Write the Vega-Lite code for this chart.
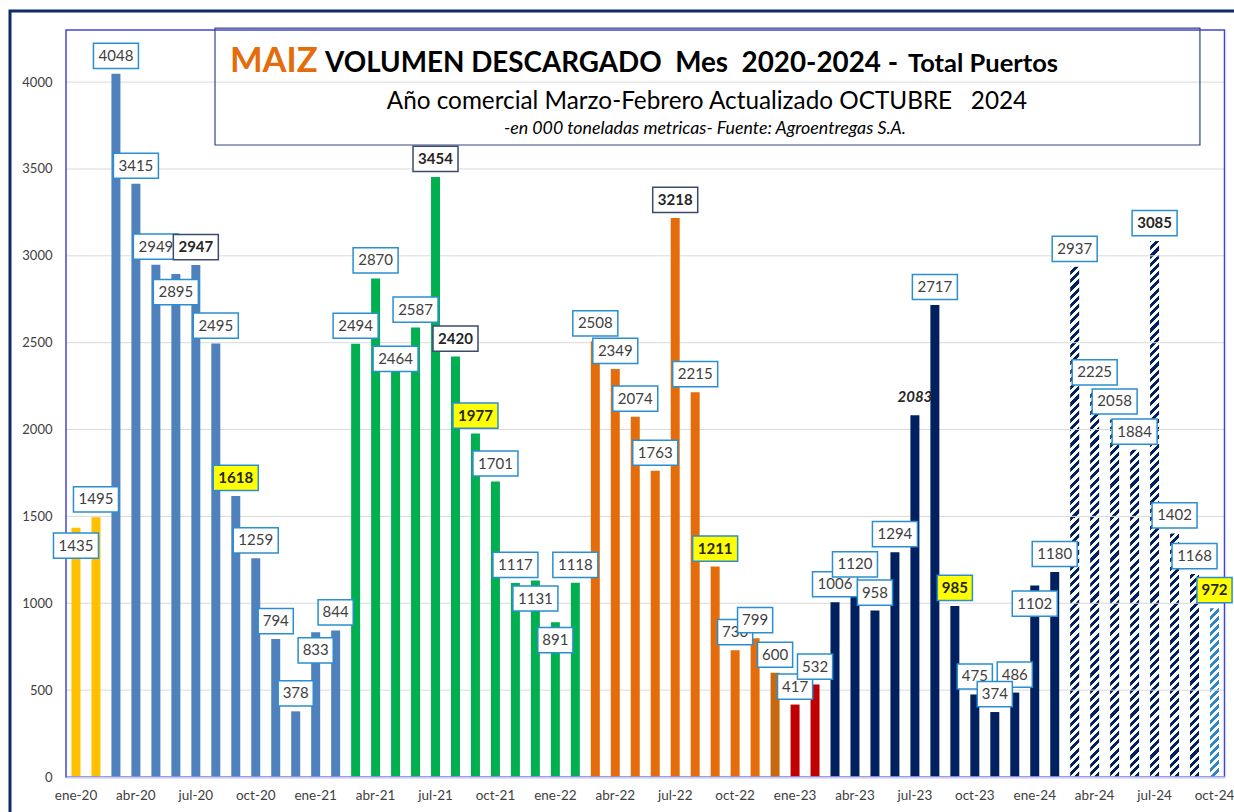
{
"$schema": "https://vega.github.io/schema/vega-lite/v6.json",
"width": 1234,
"height": 810,
"autosize": {"type": "none"},
"padding": {"left": 10, "top": 11, "right": -10, "bottom": -9},
"background": "white",
"config": {"view": {"stroke": "#0F2A66", "strokeWidth": 3}, "text": {"font": "Lato"}},
"data": {"values": [
{"m":"ene-20","v":1435,"c":"19/20"},{"m":"feb-20","v":1495,"c":"19/20"},
{"m":"mar-20","v":4048,"c":"20/21"},{"m":"abr-20","v":3415,"c":"20/21"},{"m":"may-20","v":2949,"c":"20/21"},{"m":"jun-20","v":2895,"c":"20/21"},{"m":"jul-20","v":2947,"c":"20/21"},{"m":"ago-20","v":2495,"c":"20/21"},{"m":"sep-20","v":1618,"c":"20/21"},{"m":"oct-20","v":1259,"c":"20/21"},{"m":"nov-20","v":794,"c":"20/21"},{"m":"dic-20","v":378,"c":"20/21"},{"m":"ene-21","v":833,"c":"20/21"},{"m":"feb-21","v":844,"c":"20/21"},
{"m":"mar-21","v":2494,"c":"21/22"},{"m":"abr-21","v":2870,"c":"21/22"},{"m":"may-21","v":2464,"c":"21/22"},{"m":"jun-21","v":2587,"c":"21/22"},{"m":"jul-21","v":3454,"c":"21/22"},{"m":"ago-21","v":2420,"c":"21/22"},{"m":"sep-21","v":1977,"c":"21/22"},{"m":"oct-21","v":1701,"c":"21/22"},{"m":"nov-21","v":1117,"c":"21/22"},{"m":"dic-21","v":1131,"c":"21/22"},{"m":"ene-22","v":891,"c":"21/22"},{"m":"feb-22","v":1118,"c":"21/22"},
{"m":"mar-22","v":2508,"c":"22/23"},{"m":"abr-22","v":2349,"c":"22/23"},{"m":"may-22","v":2074,"c":"22/23"},{"m":"jun-22","v":1763,"c":"22/23"},{"m":"jul-22","v":3218,"c":"22/23"},{"m":"ago-22","v":2215,"c":"22/23"},{"m":"sep-22","v":1211,"c":"22/23"},{"m":"oct-22","v":730,"c":"22/23"},{"m":"nov-22","v":799,"c":"22/23"},{"m":"dic-22","v":600,"c":"22/23"},{"m":"ene-23","v":417,"c":"22/23"},{"m":"feb-23","v":532,"c":"22/23"},
{"m":"mar-23","v":1006,"c":"23/24"},{"m":"abr-23","v":1120,"c":"23/24"},{"m":"may-23","v":958,"c":"23/24"},{"m":"jun-23","v":1294,"c":"23/24"},{"m":"jul-23","v":2083,"c":"23/24"},{"m":"ago-23","v":2717,"c":"23/24"},{"m":"sep-23","v":985,"c":"23/24"},{"m":"oct-23","v":475,"c":"23/24"},{"m":"nov-23","v":374,"c":"23/24"},{"m":"dic-23","v":486,"c":"23/24"},{"m":"ene-24","v":1102,"c":"23/24"},{"m":"feb-24","v":1180,"c":"23/24"},
{"m":"mar-24","v":2937,"c":"24/25"},{"m":"abr-24","v":2225,"c":"24/25"},{"m":"may-24","v":2058,"c":"24/25"},{"m":"jun-24","v":1884,"c":"24/25"},{"m":"jul-24","v":3085,"c":"24/25"},{"m":"ago-24","v":1402,"c":"24/25"},{"m":"sep-24","v":1168,"c":"24/25"},{"m":"oct-24","v":972,"c":"24/25"}
]},
"layer": [
{
"transform": [{"filter": "datum.c === '24/25' && datum.m !== 'oct-24'"}],
"mark": {"type": "bar", "width": {"band": 0.45}, "fill": {"gradient": "linear", "x1": 0, "y1": 0, "x2": 0.016958, "y2": 1.016373, "stops": [
{"offset":0,"color":"#002060"},
{"offset":0.0075,"color":"#002060"},{"offset":0.0075,"color":"#fff"},
{"offset":0.015,"color":"#fff"},{"offset":0.015,"color":"#002060"},
{"offset":0.0225,"color":"#002060"},{"offset":0.0225,"color":"#fff"},
{"offset":0.03,"color":"#fff"},{"offset":0.03,"color":"#002060"},
{"offset":0.0375,"color":"#002060"},{"offset":0.0375,"color":"#fff"},
{"offset":0.045,"color":"#fff"},{"offset":0.045,"color":"#002060"},
{"offset":0.0525,"color":"#002060"},{"offset":0.0525,"color":"#fff"},
{"offset":0.06,"color":"#fff"},{"offset":0.06,"color":"#002060"},
{"offset":0.0675,"color":"#002060"},{"offset":0.0675,"color":"#fff"},
{"offset":0.075,"color":"#fff"},{"offset":0.075,"color":"#002060"},
{"offset":0.0825,"color":"#002060"},{"offset":0.0825,"color":"#fff"},
{"offset":0.09,"color":"#fff"},{"offset":0.09,"color":"#002060"},
{"offset":0.0975,"color":"#002060"},{"offset":0.0975,"color":"#fff"},
{"offset":0.105,"color":"#fff"},{"offset":0.105,"color":"#002060"},
{"offset":0.1125,"color":"#002060"},{"offset":0.1125,"color":"#fff"},
{"offset":0.12,"color":"#fff"},{"offset":0.12,"color":"#002060"},
{"offset":0.1275,"color":"#002060"},{"offset":0.1275,"color":"#fff"},
{"offset":0.135,"color":"#fff"},{"offset":0.135,"color":"#002060"},
{"offset":0.1425,"color":"#002060"},{"offset":0.1425,"color":"#fff"},
{"offset":0.15,"color":"#fff"},{"offset":0.15,"color":"#002060"},
{"offset":0.1575,"color":"#002060"},{"offset":0.1575,"color":"#fff"},
{"offset":0.165,"color":"#fff"},{"offset":0.165,"color":"#002060"},
{"offset":0.1725,"color":"#002060"},{"offset":0.1725,"color":"#fff"},
{"offset":0.18,"color":"#fff"},{"offset":0.18,"color":"#002060"},
{"offset":0.1875,"color":"#002060"},{"offset":0.1875,"color":"#fff"},
{"offset":0.195,"color":"#fff"},{"offset":0.195,"color":"#002060"},
{"offset":0.2025,"color":"#002060"},{"offset":0.2025,"color":"#fff"},
{"offset":0.21,"color":"#fff"},{"offset":0.21,"color":"#002060"},
{"offset":0.2175,"color":"#002060"},{"offset":0.2175,"color":"#fff"},
{"offset":0.225,"color":"#fff"},{"offset":0.225,"color":"#002060"},
{"offset":0.2325,"color":"#002060"},{"offset":0.2325,"color":"#fff"},
{"offset":0.24,"color":"#fff"},{"offset":0.24,"color":"#002060"},
{"offset":0.2475,"color":"#002060"},{"offset":0.2475,"color":"#fff"},
{"offset":0.255,"color":"#fff"},{"offset":0.255,"color":"#002060"},
{"offset":0.2625,"color":"#002060"},{"offset":0.2625,"color":"#fff"},
{"offset":0.27,"color":"#fff"},{"offset":0.27,"color":"#002060"},
{"offset":0.2775,"color":"#002060"},{"offset":0.2775,"color":"#fff"},
{"offset":0.285,"color":"#fff"},{"offset":0.285,"color":"#002060"},
{"offset":0.2925,"color":"#002060"},{"offset":0.2925,"color":"#fff"},
{"offset":0.3,"color":"#fff"},{"offset":0.3,"color":"#002060"},
{"offset":0.3075,"color":"#002060"},{"offset":0.3075,"color":"#fff"},
{"offset":0.315,"color":"#fff"},{"offset":0.315,"color":"#002060"},
{"offset":0.3225,"color":"#002060"},{"offset":0.3225,"color":"#fff"},
{"offset":0.33,"color":"#fff"},{"offset":0.33,"color":"#002060"},
{"offset":0.3375,"color":"#002060"},{"offset":0.3375,"color":"#fff"},
{"offset":0.345,"color":"#fff"},{"offset":0.345,"color":"#002060"},
{"offset":0.3525,"color":"#002060"},{"offset":0.3525,"color":"#fff"},
{"offset":0.36,"color":"#fff"},{"offset":0.36,"color":"#002060"},
{"offset":0.3675,"color":"#002060"},{"offset":0.3675,"color":"#fff"},
{"offset":0.375,"color":"#fff"},{"offset":0.375,"color":"#002060"},
{"offset":0.3825,"color":"#002060"},{"offset":0.3825,"color":"#fff"},
{"offset":0.39,"color":"#fff"},{"offset":0.39,"color":"#002060"},
{"offset":0.3975,"color":"#002060"},{"offset":0.3975,"color":"#fff"},
{"offset":0.405,"color":"#fff"},{"offset":0.405,"color":"#002060"},
{"offset":0.4125,"color":"#002060"},{"offset":0.4125,"color":"#fff"},
{"offset":0.42,"color":"#fff"},{"offset":0.42,"color":"#002060"},
{"offset":0.4275,"color":"#002060"},{"offset":0.4275,"color":"#fff"},
{"offset":0.435,"color":"#fff"},{"offset":0.435,"color":"#002060"},
{"offset":0.4425,"color":"#002060"},{"offset":0.4425,"color":"#fff"},
{"offset":0.45,"color":"#fff"},{"offset":0.45,"color":"#002060"},
{"offset":0.4575,"color":"#002060"},{"offset":0.4575,"color":"#fff"},
{"offset":0.465,"color":"#fff"},{"offset":0.465,"color":"#002060"},
{"offset":0.4725,"color":"#002060"},{"offset":0.4725,"color":"#fff"},
{"offset":0.48,"color":"#fff"},{"offset":0.48,"color":"#002060"},
{"offset":0.4875,"color":"#002060"},{"offset":0.4875,"color":"#fff"},
{"offset":0.495,"color":"#fff"},{"offset":0.495,"color":"#002060"},
{"offset":0.5025,"color":"#002060"},{"offset":0.5025,"color":"#fff"},
{"offset":0.51,"color":"#fff"},{"offset":0.51,"color":"#002060"},
{"offset":0.5175,"color":"#002060"},{"offset":0.5175,"color":"#fff"},
{"offset":0.525,"color":"#fff"},{"offset":0.525,"color":"#002060"},
{"offset":0.5325,"color":"#002060"},{"offset":0.5325,"color":"#fff"},
{"offset":0.54,"color":"#fff"},{"offset":0.54,"color":"#002060"},
{"offset":0.5475,"color":"#002060"},{"offset":0.5475,"color":"#fff"},
{"offset":0.555,"color":"#fff"},{"offset":0.555,"color":"#002060"},
{"offset":0.5625,"color":"#002060"},{"offset":0.5625,"color":"#fff"},
{"offset":0.57,"color":"#fff"},{"offset":0.57,"color":"#002060"},
{"offset":0.5775,"color":"#002060"},{"offset":0.5775,"color":"#fff"},
{"offset":0.585,"color":"#fff"},{"offset":0.585,"color":"#002060"},
{"offset":0.5925,"color":"#002060"},{"offset":0.5925,"color":"#fff"},
{"offset":0.6,"color":"#fff"},{"offset":0.6,"color":"#002060"},
{"offset":0.6075,"color":"#002060"},{"offset":0.6075,"color":"#fff"},
{"offset":0.615,"color":"#fff"},{"offset":0.615,"color":"#002060"},
{"offset":0.6225,"color":"#002060"},{"offset":0.6225,"color":"#fff"},
{"offset":0.63,"color":"#fff"},{"offset":0.63,"color":"#002060"},
{"offset":0.6375,"color":"#002060"},{"offset":0.6375,"color":"#fff"},
{"offset":0.645,"color":"#fff"},{"offset":0.645,"color":"#002060"},
{"offset":0.6525,"color":"#002060"},{"offset":0.6525,"color":"#fff"},
{"offset":0.66,"color":"#fff"},{"offset":0.66,"color":"#002060"},
{"offset":0.6675,"color":"#002060"},{"offset":0.6675,"color":"#fff"},
{"offset":0.675,"color":"#fff"},{"offset":0.675,"color":"#002060"},
{"offset":0.6825,"color":"#002060"},{"offset":0.6825,"color":"#fff"},
{"offset":0.69,"color":"#fff"},{"offset":0.69,"color":"#002060"},
{"offset":0.6975,"color":"#002060"},{"offset":0.6975,"color":"#fff"},
{"offset":0.705,"color":"#fff"},{"offset":0.705,"color":"#002060"},
{"offset":0.7125,"color":"#002060"},{"offset":0.7125,"color":"#fff"},
{"offset":0.72,"color":"#fff"},{"offset":0.72,"color":"#002060"},
{"offset":0.7275,"color":"#002060"},{"offset":0.7275,"color":"#fff"},
{"offset":0.735,"color":"#fff"},{"offset":0.735,"color":"#002060"},
{"offset":0.7425,"color":"#002060"},{"offset":0.7425,"color":"#fff"},
{"offset":0.75,"color":"#fff"},{"offset":0.75,"color":"#002060"},
{"offset":0.7575,"color":"#002060"},{"offset":0.7575,"color":"#fff"},
{"offset":0.765,"color":"#fff"},{"offset":0.765,"color":"#002060"},
{"offset":0.7725,"color":"#002060"},{"offset":0.7725,"color":"#fff"},
{"offset":0.78,"color":"#fff"},{"offset":0.78,"color":"#002060"},
{"offset":0.7875,"color":"#002060"},{"offset":0.7875,"color":"#fff"},
{"offset":0.795,"color":"#fff"},{"offset":0.795,"color":"#002060"},
{"offset":0.8025,"color":"#002060"},{"offset":0.8025,"color":"#fff"},
{"offset":0.81,"color":"#fff"},{"offset":0.81,"color":"#002060"},
{"offset":0.8175,"color":"#002060"},{"offset":0.8175,"color":"#fff"},
{"offset":0.825,"color":"#fff"},{"offset":0.825,"color":"#002060"},
{"offset":0.8325,"color":"#002060"},{"offset":0.8325,"color":"#fff"},
{"offset":0.84,"color":"#fff"},{"offset":0.84,"color":"#002060"},
{"offset":0.8475,"color":"#002060"},{"offset":0.8475,"color":"#fff"},
{"offset":0.855,"color":"#fff"},{"offset":0.855,"color":"#002060"},
{"offset":0.8625,"color":"#002060"},{"offset":0.8625,"color":"#fff"},
{"offset":0.87,"color":"#fff"},{"offset":0.87,"color":"#002060"},
{"offset":0.8775,"color":"#002060"},{"offset":0.8775,"color":"#fff"},
{"offset":0.885,"color":"#fff"},{"offset":0.885,"color":"#002060"},
{"offset":0.8925,"color":"#002060"},{"offset":0.8925,"color":"#fff"},
{"offset":0.9,"color":"#fff"},{"offset":0.9,"color":"#002060"},
{"offset":0.9075,"color":"#002060"},{"offset":0.9075,"color":"#fff"},
{"offset":0.915,"color":"#fff"},{"offset":0.915,"color":"#002060"},
{"offset":0.9225,"color":"#002060"},{"offset":0.9225,"color":"#fff"},
{"offset":0.93,"color":"#fff"},{"offset":0.93,"color":"#002060"},
{"offset":0.9375,"color":"#002060"},{"offset":0.9375,"color":"#fff"},
{"offset":0.945,"color":"#fff"},{"offset":0.945,"color":"#002060"},
{"offset":0.9525,"color":"#002060"},{"offset":0.9525,"color":"#fff"},
{"offset":0.96,"color":"#fff"},{"offset":0.96,"color":"#002060"},
{"offset":0.9675,"color":"#002060"},{"offset":0.9675,"color":"#fff"},
{"offset":0.975,"color":"#fff"},{"offset":0.975,"color":"#002060"},
{"offset":0.9825,"color":"#002060"},{"offset":0.9825,"color":"#fff"},
{"offset":0.99,"color":"#fff"},{"offset":0.99,"color":"#002060"},
{"offset":0.9975,"color":"#002060"},{"offset":0.9975,"color":"#fff"},
{"offset":1,"color":"#fff"}
]}},
"encoding": {
"x": {"field": "m", "type": "nominal", "sort": null,
 "scale": {"type": "band", "domain": ["ene-20","feb-20","mar-20","abr-20","may-20","jun-20","jul-20","ago-20","sep-20","oct-20","nov-20","dic-20","ene-21","feb-21","mar-21","abr-21","may-21","jun-21","jul-21","ago-21","sep-21","oct-21","nov-21","dic-21","ene-22","feb-22","mar-22","abr-22","may-22","jun-22","jul-22","ago-22","sep-22","oct-22","nov-22","dic-22","ene-23","feb-23","mar-23","abr-23","may-23","jun-23","jul-23","ago-23","sep-23","oct-23","nov-23","dic-23","ene-24","feb-24","mar-24","abr-24","may-24","jun-24","jul-24","ago-24","sep-24","oct-24"], "range": [56, 1214.5], "paddingInner": 0, "paddingOuter": 0},
 "axis": {"orient": "bottom", "offset": -44, "title": null, "values": ["ene-20","abr-20","jul-20","oct-20","ene-21","abr-21","jul-21","oct-21","ene-22","abr-22","jul-22","oct-22","ene-23","abr-23","jul-23","oct-23","ene-24","abr-24","jul-24","oct-24"], "ticks": false, "tickSize": 0, "labelPadding": 11, "labelAngle": 0, "labelFont": "Lato", "labelFontSize": 13.5, "labelColor": "#404040", "labelOverlap": false, "domainColor": "#C9C9EE", "domainWidth": 2, "grid": false, "zindex": 1}},
"y": {"datum": 3100, "type": "quantitative",
 "scale": {"domain": [0, 4300], "range": [766, 19], "nice": false, "zero": true},
 "axis": {"orient": "left", "offset": -56, "title": null, "format": "d", "values": [0,500,1000,1500,2000,2500,3000,3500,4000], "ticks": false, "tickSize": 0, "labelPadding": 14, "labelFont": "Lato", "labelFontSize": 13, "labelColor": "#404040", "domain": false, "grid": false}},
"y2": {"datum": 0}
}
},
{
"transform": [{"filter": "datum.m === 'oct-24'"}],
"mark": {"type": "bar", "width": {"band": 0.45}, "fill": {"gradient": "linear", "x1": 0, "y1": 0, "x2": 0.05588, "y2": 1.05021, "stops": [
{"offset":0,"color":"#2E86C8"},
{"offset":0.0225,"color":"#2E86C8"},{"offset":0.0225,"color":"#fff"},
{"offset":0.045,"color":"#fff"},{"offset":0.045,"color":"#2E86C8"},
{"offset":0.0675,"color":"#2E86C8"},{"offset":0.0675,"color":"#fff"},
{"offset":0.09,"color":"#fff"},{"offset":0.09,"color":"#2E86C8"},
{"offset":0.1125,"color":"#2E86C8"},{"offset":0.1125,"color":"#fff"},
{"offset":0.135,"color":"#fff"},{"offset":0.135,"color":"#2E86C8"},
{"offset":0.1575,"color":"#2E86C8"},{"offset":0.1575,"color":"#fff"},
{"offset":0.18,"color":"#fff"},{"offset":0.18,"color":"#2E86C8"},
{"offset":0.2025,"color":"#2E86C8"},{"offset":0.2025,"color":"#fff"},
{"offset":0.225,"color":"#fff"},{"offset":0.225,"color":"#2E86C8"},
{"offset":0.2475,"color":"#2E86C8"},{"offset":0.2475,"color":"#fff"},
{"offset":0.27,"color":"#fff"},{"offset":0.27,"color":"#2E86C8"},
{"offset":0.2925,"color":"#2E86C8"},{"offset":0.2925,"color":"#fff"},
{"offset":0.315,"color":"#fff"},{"offset":0.315,"color":"#2E86C8"},
{"offset":0.3375,"color":"#2E86C8"},{"offset":0.3375,"color":"#fff"},
{"offset":0.36,"color":"#fff"},{"offset":0.36,"color":"#2E86C8"},
{"offset":0.3825,"color":"#2E86C8"},{"offset":0.3825,"color":"#fff"},
{"offset":0.405,"color":"#fff"},{"offset":0.405,"color":"#2E86C8"},
{"offset":0.4275,"color":"#2E86C8"},{"offset":0.4275,"color":"#fff"},
{"offset":0.45,"color":"#fff"},{"offset":0.45,"color":"#2E86C8"},
{"offset":0.4725,"color":"#2E86C8"},{"offset":0.4725,"color":"#fff"},
{"offset":0.495,"color":"#fff"},{"offset":0.495,"color":"#2E86C8"},
{"offset":0.5175,"color":"#2E86C8"},{"offset":0.5175,"color":"#fff"},
{"offset":0.54,"color":"#fff"},{"offset":0.54,"color":"#2E86C8"},
{"offset":0.5625,"color":"#2E86C8"},{"offset":0.5625,"color":"#fff"},
{"offset":0.585,"color":"#fff"},{"offset":0.585,"color":"#2E86C8"},
{"offset":0.6075,"color":"#2E86C8"},{"offset":0.6075,"color":"#fff"},
{"offset":0.63,"color":"#fff"},{"offset":0.63,"color":"#2E86C8"},
{"offset":0.6525,"color":"#2E86C8"},{"offset":0.6525,"color":"#fff"},
{"offset":0.675,"color":"#fff"},{"offset":0.675,"color":"#2E86C8"},
{"offset":0.6975,"color":"#2E86C8"},{"offset":0.6975,"color":"#fff"},
{"offset":0.72,"color":"#fff"},{"offset":0.72,"color":"#2E86C8"},
{"offset":0.7425,"color":"#2E86C8"},{"offset":0.7425,"color":"#fff"},
{"offset":0.765,"color":"#fff"},{"offset":0.765,"color":"#2E86C8"},
{"offset":0.7875,"color":"#2E86C8"},{"offset":0.7875,"color":"#fff"},
{"offset":0.81,"color":"#fff"},{"offset":0.81,"color":"#2E86C8"},
{"offset":0.8325,"color":"#2E86C8"},{"offset":0.8325,"color":"#fff"},
{"offset":0.855,"color":"#fff"},{"offset":0.855,"color":"#2E86C8"},
{"offset":0.8775,"color":"#2E86C8"},{"offset":0.8775,"color":"#fff"},
{"offset":0.9,"color":"#fff"},{"offset":0.9,"color":"#2E86C8"},
{"offset":0.9225,"color":"#2E86C8"},{"offset":0.9225,"color":"#fff"},
{"offset":0.945,"color":"#fff"},{"offset":0.945,"color":"#2E86C8"},
{"offset":0.9675,"color":"#2E86C8"},{"offset":0.9675,"color":"#fff"},
{"offset":0.99,"color":"#fff"},{"offset":0.99,"color":"#2E86C8"},
{"offset":1,"color":"#2E86C8"}
]}},
"encoding": {"x": {"field": "m", "type": "nominal", "sort": null}, "y": {"field": "v", "type": "quantitative"}}
},
{
"transform": [{"filter": "datum.c === '24/25' && datum.m !== 'oct-24'"}],
"mark": {"type": "bar", "width": {"band": 0.55}, "color": "#ffffff"},
"encoding": {"x": {"field": "m", "type": "nominal", "sort": null}, "y": {"field": "v", "type": "quantitative"}, "y2": {"datum": 3125}}
},
{
"data": {"values": [{"g":500},{"g":1000},{"g":1500},{"g":2000},{"g":2500},{"g":3000},{"g":3500},{"g":4000}]},
"mark": {"type": "rule", "color": "#D9D9D9", "strokeWidth": 1},
"encoding": {"y": {"field": "g", "type": "quantitative"}, "x": {"datum": "ene-20", "type": "nominal", "bandPosition": 0}, "x2": {"datum": "oct-24", "bandPosition": 1}}
},
{
"transform": [{"filter": "datum.c !== '24/25'"}],
"mark": {"type": "bar", "width": {"band": 0.45}},
"encoding": {"x": {"field": "m", "type": "nominal", "sort": null}, "y": {"field": "v", "type": "quantitative"},
 "color": {"field": "c", "type": "nominal", "legend": null,
  "scale": {"domain": ["19/20","20/21","21/22","22/23","23/24"], "range": ["#FFC000","#4F81BD","#00B050","#E46C0A","#002060"]},
  "condition": [{"test": "datum.m === 'dic-22'", "value": "#C8690F"}, {"test": "datum.m === 'ene-23' || datum.m === 'feb-23'", "value": "#C00000"}]}}
},
{
"data": {"values": [{}]},
"mark": {"type": "rect", "filled": false, "color": "#4545D5", "strokeWidth": 1.5},
"encoding": {"x": {"datum": "ene-20", "type": "nominal", "bandPosition": 0}, "x2": {"datum": "oct-24", "bandPosition": 1}, "y": {"datum": 4300, "type": "quantitative"}, "y2": {"datum": 0}}
},
{
"data": {"values": [{}]},
"mark": {"type": "rect", "filled": false, "color": "#34467F", "strokeWidth": 1.2},
"encoding": {"x": {"datum": "ago-20", "type": "nominal", "bandPosition": 0.46}, "x2": {"datum": "sep-24", "bandPosition": 0.77}, "y": {"datum": 4311, "type": "quantitative"}, "y2": {"datum": 3638}}
},
{
"data": {"values": [{}]},
"mark": {"type": "text", "text": "MAIZ", "font": "Lato", "fontSize": 34.5, "fontWeight": "bold", "color": "#E46C0A", "align": "left", "baseline": "alphabetic", "dx": -5.8},
"encoding": {"x": {"datum": "sep-20", "type": "nominal"}, "y": {"datum": 4058, "type": "quantitative"}}
},
{
"data": {"values": [{}]},
"mark": {"type": "text", "text": "VOLUMEN DESCARGADO\u00a0\u00a0Mes\u00a0\u00a02020-2024 -", "font": "Lato", "fontSize": 27.8, "fontWeight": "bold", "color": "#000000", "align": "left", "baseline": "alphabetic", "dx": 9.4},
"encoding": {"x": {"datum": "ene-21", "type": "nominal"}, "y": {"datum": 4058, "type": "quantitative"}}
},
{
"data": {"values": [{}]},
"mark": {"type": "text", "text": "Total Puertos", "font": "Lato", "fontSize": 25.5, "fontWeight": "bold", "color": "#000000", "align": "left", "baseline": "alphabetic", "dx": -6.9},
"encoding": {"x": {"datum": "jul-23", "type": "nominal"}, "y": {"datum": 4058, "type": "quantitative"}}
},
{
"data": {"values": [{}]},
"mark": {"type": "text", "text": "Año comercial Marzo-Febrero Actualizado OCTUBRE\u00a0\u00a0\u00a02024", "font": "Lato", "fontSize": 24.3, "color": "#000000", "align": "center", "baseline": "alphabetic", "dx": -8.2},
"encoding": {"x": {"datum": "sep-22", "type": "nominal"}, "y": {"datum": 3845, "type": "quantitative"}}
},
{
"data": {"values": [{}]},
"mark": {"type": "text", "text": "-en 000 toneladas metricas- Fuente: Agroentregas S.A.", "font": "Lato", "fontSize": 17.8, "fontStyle": "italic", "color": "#000000", "align": "center", "baseline": "alphabetic", "dx": -10.2},
"encoding": {"x": {"datum": "sep-22", "type": "nominal"}, "y": {"datum": 3701, "type": "quantitative"}}
},
{
"transform": [{"filter": "indexof(['jul-20','nov-22','feb-23','abr-23','nov-23'], datum.m) < 0"}],
"mark": {"type": "point", "filled": true, "opacity": 1, "size": 2025, "strokeWidth": 1.5,
 "shape": {"expr": "datum.v < 1000 ? 'M-0.78,-0.56L0.78,-0.56L0.78,0.56L-0.78,0.56Z' : 'M-1,-0.56L1,-0.56L1,0.56L-1,0.56Z'"},
 "fill": {"expr": "indexof(['sep-20','sep-21','sep-22','sep-23','oct-24'], datum.m) >= 0 ? '#FFFF00' : (datum.m === 'jul-23' ? 'rgba(255,255,255,0)' : '#FFFFFF')"},
 "stroke": {"expr": "indexof(['jul-20','jul-21','ago-21','jul-22'], datum.m) >= 0 ? '#3B4B6E' : (datum.m === 'jul-23' ? 'rgba(255,255,255,0)' : '#2A8FD0')"},
 "yOffset": {"expr": "datum.m === 'may-21' ? 10 : (indexof(['ene-20','jun-20','ene-21','dic-21','ene-22','ene-24'], datum.m) >= 0 ? 18 : -18)"}},
"encoding": {"x": {"field": "m", "type": "nominal", "sort": null}, "y": {"field": "v", "type": "quantitative"}}
},
{
"transform": [{"filter": "indexof(['jul-20','nov-22','feb-23','abr-23','nov-23'], datum.m) < 0"}],
"mark": {"type": "text", "font": "Lato", "fontSize": 15, "align": "center", "baseline": "middle",
 "fontWeight": {"expr": "indexof(['jul-20','sep-20','jul-21','ago-21','sep-21','jul-22','sep-22','jul-23','sep-23','jul-24','oct-24'], datum.m) >= 0 ? 'bold' : 'normal'"},
 "fontStyle": {"expr": "datum.m === 'jul-23' ? 'italic' : 'normal'"},
 "color": {"expr": "indexof(['jul-20','sep-20','jul-21','ago-21','sep-21','jul-22','sep-22','jul-23','sep-23','jul-24','oct-24'], datum.m) >= 0 ? '#262626' : '#404040'"},
 "yOffset": {"expr": "datum.m === 'may-21' ? 10 : (indexof(['ene-20','jun-20','ene-21','dic-21','ene-22','ene-24'], datum.m) >= 0 ? 18 : -18)"}},
"encoding": {"x": {"field": "m", "type": "nominal", "sort": null}, "y": {"field": "v", "type": "quantitative"}, "text": {"field": "v", "type": "quantitative", "format": "d"}}
},
{
"transform": [{"filter": "indexof(['jul-20','nov-22','feb-23','abr-23','nov-23'], datum.m) >= 0"}],
"mark": {"type": "point", "filled": true, "opacity": 1, "size": 2025, "strokeWidth": 1.5,
 "shape": {"expr": "datum.v < 1000 ? 'M-0.78,-0.56L0.78,-0.56L0.78,0.56L-0.78,0.56Z' : 'M-1,-0.56L1,-0.56L1,0.56L-1,0.56Z'"},
 "fill": "#FFFFFF",
 "stroke": {"expr": "datum.m === 'jul-20' ? '#3B4B6E' : '#2A8FD0'"},
 "yOffset": -18},
"encoding": {"x": {"field": "m", "type": "nominal", "sort": null}, "y": {"field": "v", "type": "quantitative"}}
},
{
"transform": [{"filter": "indexof(['jul-20','nov-22','feb-23','abr-23','nov-23'], datum.m) >= 0"}],
"mark": {"type": "text", "font": "Lato", "fontSize": 15, "align": "center", "baseline": "middle", "yOffset": -18,
 "fontWeight": {"expr": "datum.m === 'jul-20' ? 'bold' : 'normal'"},
 "color": {"expr": "datum.m === 'jul-20' ? '#262626' : '#404040'"}},
"encoding": {"x": {"field": "m", "type": "nominal", "sort": null}, "y": {"field": "v", "type": "quantitative"}, "text": {"field": "v", "type": "quantitative", "format": "d"}}
}
]
}
